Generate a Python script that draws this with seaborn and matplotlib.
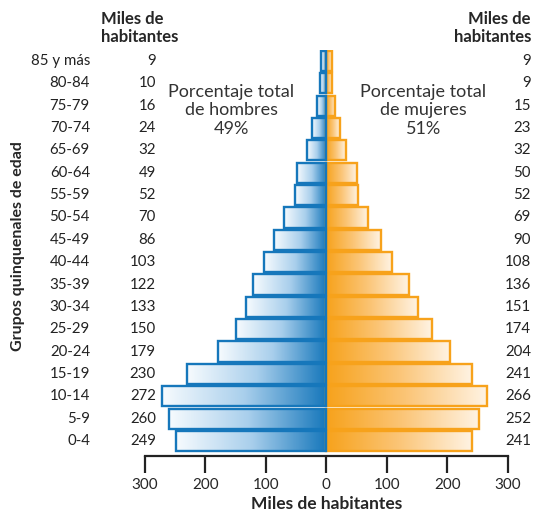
import numpy as np
import matplotlib.pyplot as plt
import matplotlib.transforms as mtransforms
from matplotlib.colors import LinearSegmentedColormap
import seaborn as sns

ages = ["85 y más", "80-84", "75-79", "70-74", "65-69", "60-64", "55-59", "50-54",
        "45-49", "40-44", "35-39", "30-34", "25-29", "20-24", "15-19", "10-14", "5-9", "0-4"]
men = [9, 10, 16, 24, 32, 49, 52, 70, 86, 103, 122, 133, 150, 179, 230, 272, 260, 249]
women = [9, 9, 15, 23, 32, 50, 52, 69, 90, 108, 136, 151, 174, 204, 241, 266, 252, 241]
xticks = [-300, -200, -100, 0, 100, 200, 300]

sns.set_style("white")
plt.rcParams["font.family"] = ["Lato", "DejaVu Sans"]

blue = "#1677bb"
orange = "#f7a21b"
blue_cmap = LinearSegmentedColormap.from_list("b", ["#f7fbfe", "#a9cfec", blue])
orange_cmap = LinearSegmentedColormap.from_list("o", [orange, "#fbc577", "#fff3e3"])

fig = plt.figure(figsize=(5.49, 5.14), dpi=100)
ax = fig.add_axes([0.264, 0.113, 0.661, 0.79])

sns.barplot(x=[-m for m in men], y=ages, color=blue, width=0.9, ax=ax)
sns.barplot(x=women, y=ages, color=orange, width=0.9, ax=ax)

# gradient fill for each bar, outline kept on the bar itself
grad = np.linspace(0, 1, 256).reshape(1, -1)
for i, p in enumerate(ax.patches):
    x0, y0, w, h = p.get_x(), p.get_y(), p.get_width(), p.get_height()
    if w < 0:
        x0, w = x0 + w, -w
    male = i < len(ages)
    cmap = blue_cmap if male else orange_cmap
    ax.imshow(grad, cmap=cmap, aspect="auto", extent=(x0, x0 + w, y0 + h, y0),
              zorder=1, interpolation="bilinear")
    p.set_facecolor("none")
    p.set_edgecolor(blue if male else orange)
    p.set_linewidth(1.7)
    p.set_zorder(3 if male else 2)

ax.set_xlim(-300, 300)
ax.set_ylim(17.67, -0.5)
ax.set_xticks(xticks)
ax.set_xticklabels([str(abs(t)) for t in xticks], fontsize=11)
ax.set_yticks([])
ax.set_xlabel("Miles de habitantes", fontsize=12.5, fontweight="bold", labelpad=3)
ax.set_ylabel("")
for s in ["left", "top", "right"]:
    ax.spines[s].set_visible(False)
ax.spines["bottom"].set_linewidth(1.6)
ax.spines["bottom"].set_color("#222222")
ax.tick_params(axis="x", bottom=True, direction="out", length=12, width=1.6,
               color="#222222", pad=4)

tr = mtransforms.blended_transform_factory(fig.transFigure, ax.transData)
for i, a in enumerate(ages):
    fig.text(90 / 549, i, a, transform=tr, ha="right", va="center", fontsize=10.8, color="#222222")
    fig.text(156 / 549, i, str(men[i]), transform=tr, ha="right", va="center", fontsize=10.8, color="#222222")
    fig.text(531 / 549, i, str(women[i]), transform=tr, ha="right", va="center", fontsize=10.8, color="#222222")

fig.text(101 / 549, 1 - 28 / 514, "Miles de\nhabitantes", ha="left", va="center",
         fontsize=12, fontweight="bold", linespacing=1.1)
fig.text(531 / 549, 1 - 28 / 514, "Miles de\nhabitantes", ha="right", va="center",
         fontsize=12, fontweight="bold", linespacing=1.1, multialignment="right")
fig.text(18 / 549, 1 - 246 / 514, "Grupos quinquenales de edad", rotation=90,
         ha="center", va="center", fontsize=11.5, fontweight="bold")

ax.text(-157, 2.2, "Porcentaje total\nde hombres\n49%", ha="center", va="center",
        fontsize=13, color="#333333", linespacing=1.2)
ax.text(160, 2.2, "Porcentaje total\nde mujeres\n51%", ha="center", va="center",
        fontsize=13, color="#333333", linespacing=1.2)

fig.savefig("out.png", dpi=100)
